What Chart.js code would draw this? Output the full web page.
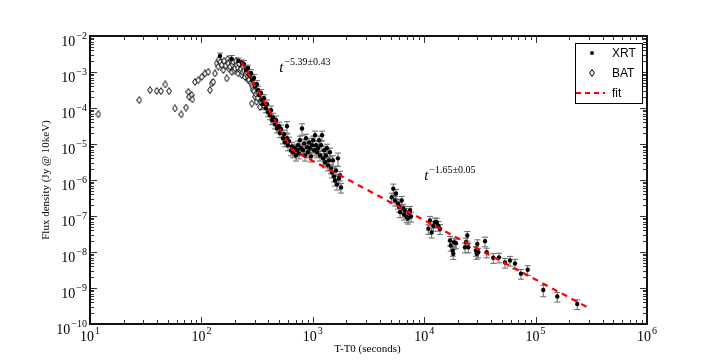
<!DOCTYPE html>
<html>
<head>
<meta charset="utf-8">
<script src="https://cdn.jsdelivr.net/npm/chart.js@4.4.1/dist/chart.umd.min.js"></script>
<style>
  body { margin: 0; background: #fff; }
  #wrap { width: 720px; height: 360px; }
</style>
</head>
<body>
<div id="wrap"><canvas id="chartLC" width="720" height="360"></canvas></div>
<script>
// XRT light curve (seconds, Jy @ 10 keV), relative error
const xrtTime = [
  147, 187, 215, 230,
  241, 251, 262, 268, 279, 285, 297, 303, 315, 322, 329, 343, 350, 357, 365, 380, 388, 396, 413, 422,
  431, 440, 458, 468, 477, 498, 508, 519, 540, 551, 562, 586, 586, 598, 611, 637, 650,
  664, 692, 706, 721, 736, 752, 767, 783, 800, 817, 834, 851, 869, 887, 906, 925, 944, 964, 984, 1005,
  1026, 1047, 1069, 1091, 1114, 1138, 1161, 1186, 1211, 1236, 1262, 1288, 1313, 1340, 1368, 1397, 1426,
  1456, 1486, 1517, 1549, 1581, 1614, 1648, 1682, 1718, 1754, 1791,
  5110, 5280, 5470, 5580, 5820, 5940, 6070, 6280, 6460, 6590, 6730, 6970, 7160, 7310, 7460, 7620,
  10900, 11270, 11670, 12070, 12500, 12950, 13400, 13870,
  17060, 17300, 18030, 18240, 18530, 19280,
  23230, 23710, 24370, 24890,
  29170, 29580, 29980, 30590,
  35150, 36400, 41700, 46900, 53100, 58900, 65300, 73900, 84900, 117200, 156600, 236600
];
const xrtFlux = [
  2.8e-3, 2.3e-3, 2.05e-3, 1.8e-3,
  1.66e-3, 1.13e-3, 1.29e-3, 8.2e-4, 9.3e-4, 5.9e-4, 6.8e-4, 4.0e-4, 4.6e-4, 3.1e-4, 2.3e-4, 2.6e-4, 1.65e-4, 1.28e-4, 1.87e-4, 9.9e-5, 1.28e-4, 7.6e-5, 6.3e-5, 8.7e-5,
  4.6e-5, 5.5e-5, 3.5e-5, 4.6e-5, 2.7e-5, 3.1e-5, 2.0e-5, 2.6e-5, 1.44e-5, 1.86e-5, 1.11e-5, 1.44e-5, 3.1e-5, 9.2e-6, 1.19e-5, 6.7e-6, 8.6e-6,
  5.9e-6, 7.6e-6, 4.8e-6, 6.7e-6, 9.2e-6, 5.5e-6, 1.27e-5, 7.6e-6, 2.7e-5, 6.7e-6, 1.04e-5, 4.8e-6, 1.44e-5, 8.1e-6, 5.9e-6, 1.11e-5, 7.6e-6, 4.5e-6, 9.2e-6, 1.27e-5,
  6.7e-6, 1.75e-5, 9.2e-6, 5.9e-6, 7.6e-6, 1.27e-5, 4.8e-6, 9.2e-6, 1.75e-5, 4.0e-6, 6.7e-6, 3.1e-6, 4.8e-6, 7.6e-6, 2.55e-6, 3.5e-6, 5.9e-6,
  2.1e-6, 1.63e-6, 3.5e-6, 1.26e-6, 9.7e-7, 1.85e-6, 7.5e-7, 4.0e-6, 1.11e-6, 1.34e-6, 6.2e-7,
  3.3e-7, 5.7e-7, 2.7e-7, 4.2e-7, 2.23e-7, 1.84e-7, 1.28e-7, 2.7e-7, 1.62e-7, 1.10e-7, 1.42e-7, 9.3e-8, 8.5e-8, 1.25e-7, 1.42e-7, 9.7e-8,
  4.4e-8, 7.5e-8, 3.5e-8, 5.4e-8, 6.7e-8, 6.7e-8, 5.4e-8, 4.4e-8,
  2.08e-8, 1.51e-8, 1.09e-8, 8.9e-9, 1.86e-8, 1.75e-8,
  1.35e-8, 1.86e-8, 2.86e-8, 1.35e-8,
  1.09e-8, 8.9e-9, 1.68e-8, 9.8e-9,
  1.99e-8, 9.8e-9, 6.9e-9, 7.1e-9, 5.1e-9, 5.8e-9, 4.8e-9, 2.5e-9, 3.2e-9, 8.8e-10, 5.8e-10, 3.6e-10
];
const xrtErr = [
  0.2, 0.25, 0.2, 0.2,
  0.25, 0.25, 0.2, 0.25, 0.25, 0.2, 0.25, 0.25, 0.25, 0.3, 0.25, 0.25, 0.25, 0.3, 0.25, 0.25, 0.3, 0.25, 0.25, 0.3,
  0.25, 0.3, 0.25, 0.3, 0.25, 0.3, 0.25, 0.3, 0.3, 0.3, 0.25, 0.3, 0.35, 0.3, 0.3, 0.3, 0.3,
  0.3, 0.3, 0.3, 0.3, 0.3, 0.3, 0.3, 0.3, 0.35, 0.3, 0.3, 0.3, 0.3, 0.3, 0.3, 0.3, 0.3, 0.3, 0.3, 0.3,
  0.3, 0.3, 0.3, 0.3, 0.3, 0.3, 0.3, 0.3, 0.3, 0.35, 0.3, 0.3, 0.3, 0.3, 0.3, 0.3, 0.3,
  0.3, 0.3, 0.35, 0.3, 0.3, 0.3, 0.3, 0.4, 0.3, 0.3, 0.3,
  0.3, 0.35, 0.3, 0.3, 0.3, 0.3, 0.3, 0.3, 0.3, 0.3, 0.3, 0.3, 0.3, 0.3, 0.3, 0.3,
  0.3, 0.3, 0.3, 0.3, 0.3, 0.3, 0.3, 0.3,
  0.3, 0.3, 0.3, 0.3, 0.3, 0.3,
  0.3, 0.3, 0.3, 0.3,
  0.3, 0.3, 0.3, 0.3,
  0.3, 0.3, 0.3, 0.3, 0.3, 0.3, 0.3, 0.3, 0.3, 0.35, 0.3, 0.3
];

// BAT extrapolated points
const batTime = [
  11.9, 27.7, 34.6, 39.7, 43.4, 47.4, 51.2, 57.9, 66.0, 72.8,
  76.3, 77.8, 81.8, 83, 87.6, 93.8, 100.7, 107.7, 115.3, 119.4,
  124, 127.9, 132.4, 137.1, 141.8, 143, 148, 152.2, 157.4, 160,
  165, 168.8, 172, 174.6, 178, 180.6, 185, 187.1, 190, 193.2,
  197, 200.4, 205, 207.5, 212, 214.3, 218, 222, 226, 230,
  234, 238, 242, 246, 250, 255, 260, 264, 268, 273,
  278, 283, 283, 288, 292, 298, 303, 308, 313, 320,
  324, 336, 345, 360
];
const batFlux = [
  6.7e-5, 1.65e-4, 3.13e-4, 2.99e-4, 2.94e-4, 4.5e-4, 2.94e-4, 9.7e-5, 6.6e-5, 1.03e-4,
  2.81e-4, 2.04e-4, 2.28e-4, 1.73e-4, 5.3e-4, 5.9e-4, 7.3e-4, 9.1e-4, 1.01e-3, 3.13e-4,
  4.8e-4, 5.3e-4, 9.1e-4, 1.74e-3, 1.40e-3, 2.2e-3, 1.9e-3, 1.56e-3, 1.13e-3, 2.0e-3,
  1.5e-3, 6.6e-4, 2.3e-3, 1.74e-3, 1.2e-3, 1.40e-3, 2.1e-3, 1.01e-3, 1.6e-3, 1.92e-3,
  1.1e-3, 1.26e-3, 2.0e-3, 1.56e-3, 1.3e-3, 9.1e-4, 1.7e-3, 1.13e-3, 1.2e-3, 8.2e-4,
  1.0e-3, 1.40e-3, 1.1e-3, 7.3e-4, 9.0e-4, 1.01e-3, 7.5e-4, 5.9e-4, 6.0e-4, 8.2e-4,
  5.0e-4, 4.3e-4, 1.33e-4, 3.8e-4, 3.13e-4, 2.9e-4, 2.04e-4, 2.4e-4, 1.48e-4, 1.9e-4,
  2.54e-4, 1.07e-4, 1.5e-4, 1.2e-4
];

// broken power-law fit: start, break, end
const fitTime = [229, 650, 3.0e5];
const fitFlux = [1.9e-3, 6.9e-6, 2.8e-10];

const xDecades = [1, 2, 3, 4, 5, 6];
const yDecades = [-10, -9, -8, -7, -6, -5, -4, -3, -2];
const slopeText = ['−5.39±0.43', '−1.65±0.05'];
const legendNames = ['XRT', 'BAT', 'fit'];

const serif = '"Liberation Serif", "DejaVu Serif", serif';

// small thin open diamond like matplotlib 'd'
const diamond = document.createElement('canvas');
diamond.width = 6; diamond.height = 8;
const dc = diamond.getContext('2d');
dc.beginPath();
dc.moveTo(3, 0.6); dc.lineTo(5.4, 4); dc.lineTo(3, 7.4); dc.lineTo(0.6, 4); dc.closePath();
dc.fillStyle = '#fff'; dc.fill();
dc.strokeStyle = '#000'; dc.lineWidth = 1; dc.stroke();

const pow10 = (ctx, e, x, y, align) => {
  const sup = String(e).replace('-', '−');
  ctx.font = '14px ' + serif;
  const wb = ctx.measureText('10').width;
  ctx.font = '10px ' + serif;
  const ws = ctx.measureText(sup).width;
  const left = align === 'right' ? x - wb - ws - 1 : x - (wb + ws + 1) / 2;
  ctx.textAlign = 'left';
  ctx.textBaseline = 'alphabetic';
  ctx.font = '14px ' + serif;
  ctx.fillText('10', left, y);
  ctx.font = '10px ' + serif;
  ctx.fillText(sup, left + wb + 1, y - 7);
};

const slope = (ctx, txt, x, y) => {
  ctx.textAlign = 'left';
  ctx.textBaseline = 'alphabetic';
  ctx.font = 'italic 15px ' + serif;
  ctx.fillText('t', x, y);
  const w = ctx.measureText('t').width;
  ctx.font = '10px ' + serif;
  ctx.fillText(txt, x + w + 1, y - 7);
};

const decor = {
  id: 'decor',
  beforeDatasetsDraw(chart) {
    const { ctx, chartArea: a, scales: { x, y } } = chart;
    ctx.save();
    ctx.beginPath(); ctx.rect(a.left, a.top, a.right - a.left, a.bottom - a.top); ctx.clip();
    ctx.strokeStyle = '#6a6a6a';
    ctx.lineWidth = 1;
    ctx.beginPath();
    xrtTime.forEach((t, i) => {
      const px = x.getPixelForValue(t);
      const hi = y.getPixelForValue(xrtFlux[i] * (1 + xrtErr[i]));
      const lo = y.getPixelForValue(xrtFlux[i] * (1 - xrtErr[i]));
      ctx.moveTo(px, hi); ctx.lineTo(px, lo);
      ctx.moveTo(px - 3, hi); ctx.lineTo(px + 3, hi);
      ctx.moveTo(px - 3, lo); ctx.lineTo(px + 3, lo);
    });
    ctx.stroke();
    ctx.restore();
  },
  afterDraw(chart) {
    const { ctx, chartArea: a, scales: { x, y } } = chart;
    ctx.save();
    ctx.fillStyle = '#000';

    // ticks inside on all four sides
    ctx.strokeStyle = '#333';
    ctx.lineWidth = 1;
    ctx.beginPath();
    for (let d = 1; d < 6; d++) {
      for (let k = 1; k < 10; k++) {
        const px = Math.round(x.getPixelForValue(k * Math.pow(10, d))) + 0.5;
        const len = k === 1 ? 7 : 4;
        ctx.moveTo(px, a.bottom); ctx.lineTo(px, a.bottom - len);
        ctx.moveTo(px, a.top); ctx.lineTo(px, a.top + len);
      }
    }
    for (let d = -10; d < -2; d++) {
      for (let k = 1; k < 10; k++) {
        const py = Math.round(y.getPixelForValue(k * Math.pow(10, d))) + 0.5;
        const len = k === 1 ? 7 : 4;
        ctx.moveTo(a.left, py); ctx.lineTo(a.left + len, py);
        ctx.moveTo(a.right, py); ctx.lineTo(a.right - len, py);
      }
    }
    ctx.stroke();

    // frame
    ctx.strokeStyle = '#111';
    ctx.lineWidth = 2;
    ctx.strokeRect(a.left, a.top, a.right - a.left, a.bottom - a.top);

    // tick labels
    xDecades.forEach(e => pow10(ctx, e, x.getPixelForValue(Math.pow(10, e)), a.bottom + 17, 'center'));
    yDecades.forEach(e => pow10(ctx, e, a.left - 3, y.getPixelForValue(Math.pow(10, e)) + 10, 'right'));

    // axis titles
    ctx.font = '11px ' + serif;
    ctx.textAlign = 'center';
    ctx.textBaseline = 'middle';
    ctx.fillText('T-T0 (seconds)', (a.left + a.right) / 2 - 1, 349);
    ctx.save();
    ctx.translate(46, (a.top + a.bottom) / 2);
    ctx.rotate(-Math.PI / 2);
    ctx.fillText('Flux density (Jy @ 10keV)', 0, 0);
    ctx.restore();

    // slope annotations
    slope(ctx, slopeText[0], x.getPixelForValue(500), y.getPixelForValue(1e-3));
    slope(ctx, slopeText[1], x.getPixelForValue(1e4), y.getPixelForValue(1e-6));

    // legend
    const lx = 575, ly = 43, lw = 67, lh = 60;
    ctx.fillStyle = '#fff';
    ctx.fillRect(lx, ly, lw, lh);
    ctx.strokeStyle = '#000';
    ctx.lineWidth = 1;
    ctx.strokeRect(lx + 0.5, ly + 0.5, lw, lh);
    const rows = [53, 73, 93];
    ctx.fillStyle = '#000';
    ctx.beginPath(); ctx.arc(592, rows[0], 2, 0, Math.PI * 2); ctx.fill();
    ctx.drawImage(diamond, 589, rows[1] - 4);
    ctx.strokeStyle = 'red';
    ctx.lineWidth = 2;
    ctx.setLineDash([5, 4]);
    ctx.beginPath(); ctx.moveTo(576, rows[2]); ctx.lineTo(605, rows[2]); ctx.stroke();
    ctx.setLineDash([]);
    ctx.fillStyle = '#000';
    ctx.font = '12px "Liberation Sans", Arial, sans-serif';
    ctx.textAlign = 'left';
    ctx.textBaseline = 'middle';
    legendNames.forEach((n, i) => ctx.fillText(n, 612, rows[i] + 1));

    ctx.restore();
  }
};

const ctx = document.getElementById('chartLC').getContext('2d');

const lightCurve = new Chart(ctx, {
  type: 'scatter',
  data: {
    datasets: [
      {
        label: 'fit',
        type: 'line',
        data: fitTime.map((t, i) => ({ x: t, y: fitFlux[i] })),
        borderColor: 'red',
        borderWidth: 2.2,
        borderDash: [6, 5],
        pointRadius: 0,
        fill: false,
        tension: 0,
        order: 0
      },
      {
        label: 'XRT',
        data: xrtTime.map((t, i) => ({ x: t, y: xrtFlux[i] })),
        pointStyle: 'circle',
        pointRadius: 2.2,
        backgroundColor: '#000',
        borderColor: '#000',
        borderWidth: 0,
        order: 1
      },
      {
        label: 'BAT',
        data: batTime.map((t, i) => ({ x: t, y: batFlux[i] })),
        pointStyle: diamond,
        pointRadius: 3,
        order: 2
      }
    ]
  },
  options: {
    responsive: false,
    animation: false,
    events: [],
    layout: { padding: { left: 90, top: 36, right: 73, bottom: 36 } },
    plugins: { legend: { display: false }, tooltip: { enabled: false } },
    scales: {
      x: { type: 'logarithmic', min: 10, max: 1e6, display: false },
      y: { type: 'logarithmic', min: 1e-10, max: 1e-2, display: false }
    }
  },
  plugins: [decor]
});
</script>
</body>
</html>
